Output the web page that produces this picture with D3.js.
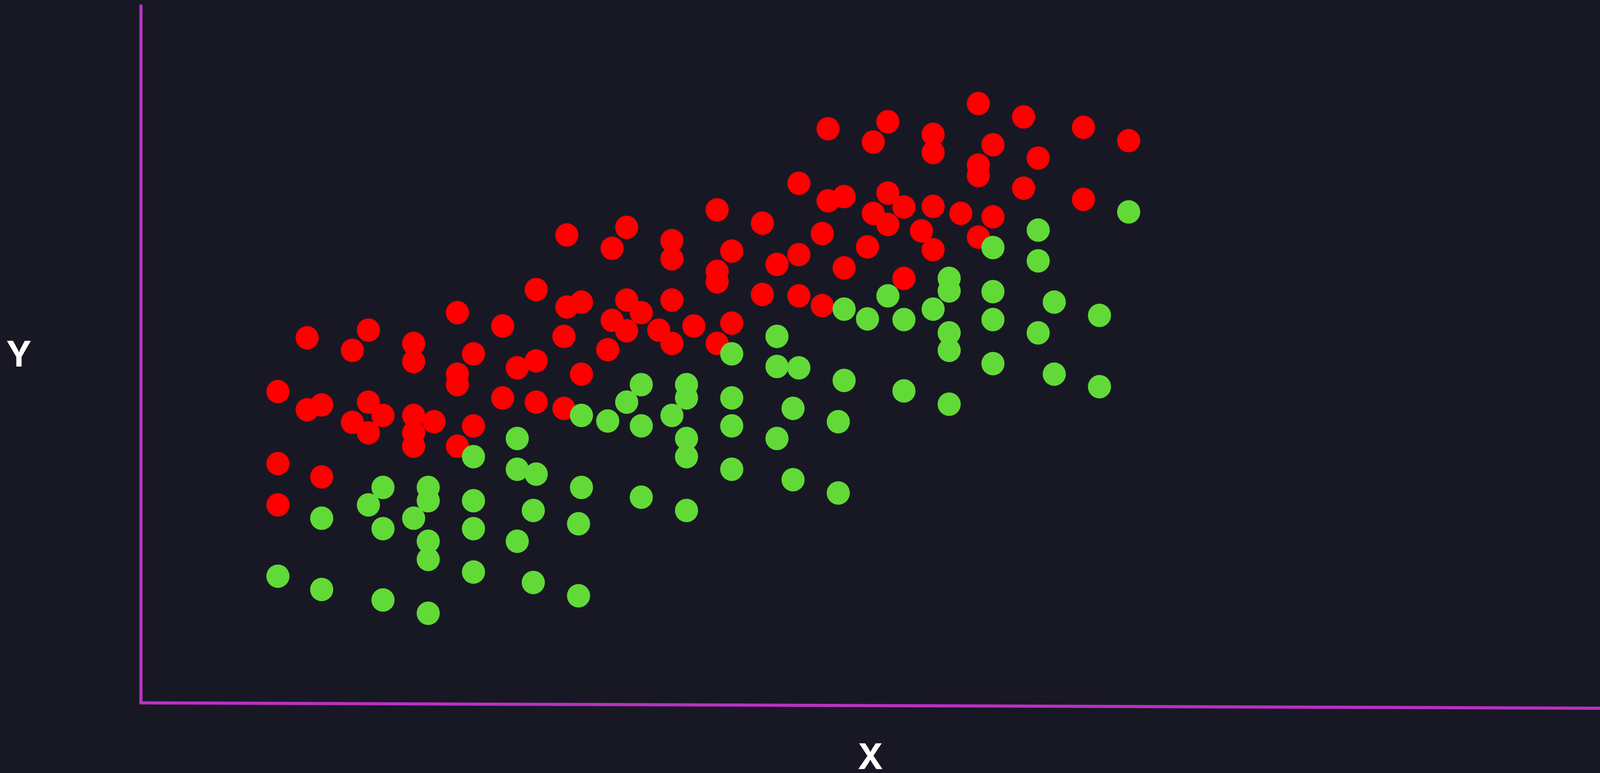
<!DOCTYPE html>
<html>
<head>
<meta charset="utf-8">
<script src="https://cdn.jsdelivr.net/npm/d3@7"></script>
<style>
  html, body { margin: 0; padding: 0; width: 100%; height: 100%; background: #181825; overflow: hidden; }
  #chart { width: 100vw; height: 100vh; }
</style>
</head>
<body>
<div id="chart"></div>
<script>
// red group
const redX = [57.4, 60.5, 51.2, 47.1, 50.2, 64.6, 67.7, 54.3, 54.3, 58.4,
  61.5, 57.4, 57.4, 60.5, 64.6, 45.1, 47.1, 48.2, 51.2, 52.3,
  50.2, 51.2, 54.3, 56.2, 58.4, 53.5, 54.3, 57.4, 46.7, 49.8,
  45.1, 43.6, 48.2, 52.3, 45.1, 46.7, 42.6, 42.6, 39.5, 40.5,
  39.5, 39.5, 36.4, 36.4, 33.3, 32.3, 29.2, 27.1, 29.2, 30.2,
  33.3, 36.4, 34.3, 32.3, 33.3, 35.5, 37.9, 40.5, 36.4, 39.5,
  32.0, 30.2, 29.0, 21.7, 24.8, 22.8, 18.7, 18.7, 15.6, 14.5,
  11.4, 21.7, 21.7, 25.8, 27.1, 9.4, 11.4, 12.4, 15.6, 16.6,
  14.5, 15.6, 18.7, 18.7, 18.7, 20.1, 22.8, 21.7, 24.8, 27.1,
  29.0, 9.4, 12.4, 9.4];
const redY = [85.8, 83.9, 83.2, 82.2, 80.3, 82.4, 80.5, 81.4, 78.8, 79.9,
  78.0, 77.0, 75.5, 73.7, 72.1, 74.4, 71.9, 72.5, 73.0, 71.0,
  70.1, 68.5, 71.1, 70.1, 69.6, 67.6, 64.9, 66.7, 67.2, 65.3,
  64.2, 62.8, 62.3, 60.8, 58.3, 56.9, 58.5, 68.7, 70.6, 64.7,
  61.8, 60.3, 66.2, 63.6, 68.1, 65.1, 67.0, 59.2, 56.7, 57.4,
  57.7, 57.7, 55.9, 54.8, 53.3, 53.4, 54.0, 54.4, 51.5, 51.5,
  50.6, 47.1, 52.5, 55.9, 54.0, 50.0, 51.5, 48.9, 53.4, 50.5,
  52.3, 47.1, 45.6, 48.0, 49.0, 44.6, 42.0, 42.7, 43.1, 41.2,
  40.2, 38.7, 41.2, 38.7, 36.8, 40.3, 39.7, 36.8, 43.7, 43.1,
  42.2, 34.3, 32.4, 28.4];

// green group
const greenX = [67.7, 61.5, 58.4, 61.5, 55.4, 55.4, 58.4, 62.6, 65.7, 58.4,
  54.3, 52.3, 51.2, 49.8, 48.2, 55.4, 55.4, 61.5, 58.4, 62.6,
  65.7, 52.3, 55.4, 48.2, 43.6, 43.6, 45.1, 44.7, 47.8, 43.6,
  44.7, 47.8, 40.5, 40.5, 40.5, 40.5, 37.4, 37.4, 36.4, 37.4,
  37.4, 37.4, 34.3, 33.3, 34.3, 34.3, 32.0, 30.2, 30.2, 30.0,
  30.0, 25.8, 25.8, 27.1, 26.9, 25.8, 26.9, 22.8, 22.8, 22.8,
  22.8, 19.7, 19.7, 18.7, 19.7, 19.7, 19.7, 16.6, 15.6, 16.6,
  16.6, 12.4, 12.4, 9.4];
const greenY = [70.3, 67.7, 65.2, 63.3, 60.8, 59.0, 58.9, 57.4, 55.5, 54.9,
  56.4, 54.9, 58.3, 55.0, 56.4, 53.0, 50.5, 53.0, 48.6, 47.1,
  45.3, 44.7, 42.8, 46.2, 52.5, 48.2, 48.0, 42.2, 40.3, 37.9,
  32.0, 30.1, 50.0, 43.7, 39.7, 33.5, 45.6, 43.7, 41.2, 37.9,
  35.3, 27.6, 45.6, 43.1, 39.7, 29.5, 40.4, 41.2, 30.9, 25.7,
  15.4, 37.9, 33.5, 32.8, 27.6, 23.2, 17.3, 35.3, 29.0, 25.0,
  18.8, 30.9, 29.0, 26.5, 23.2, 20.6, 12.9, 30.9, 28.4, 25.0,
  14.8, 26.5, 16.3, 18.2];

const axisLabels = ["X", "Y"];

class Scatterplot {
  constructor(config) {
    this.config = config;
    this.svg = null;
    this.xScale = null;
    this.yScale = null;

    this.createSvg();
    this.createScales();
  }

  createSvg() {
    // drawn in a 4149x1978 frame and stretched to whatever the window is
    this.svg = d3.select(this.config.div)
      .append("svg")
      .attr("viewBox", `0 0 ${this.config.width} ${this.config.height}`)
      .attr("preserveAspectRatio", "none")
      .attr("width", "100%")
      .attr("height", "100%")
      .style("display", "block")
      .style("background", this.config.background);
  }

  createScales() {
    this.xScale = d3.scaleLinear().domain([0, 100]).range([this.config.left, this.config.width]);
    this.yScale = d3.scaleLinear().domain([0, 100]).range([this.config.bottom, this.config.top]);
  }

  createAxis() {
    let xAxis = d3.axisBottom(this.xScale).tickValues([]).tickSizeOuter(0);
    let yAxis = d3.axisLeft(this.yScale).tickValues([]).tickSizeOuter(0);

    // the x axis sinks a little towards the right in the original
    this.svg.append("g")
      .attr("transform", `translate(0,${this.config.bottom - 2}) rotate(0.21 ${this.config.left} 0)`)
      .call(xAxis)
      .select(".domain")
        .attr("stroke", this.config.axisColor)
        .attr("stroke-width", 8)
        .attr("stroke-linecap", "square");

    this.svg.append("g")
      .attr("transform", `translate(${this.config.left},0)`)
      .call(yAxis)
      .select(".domain")
        .attr("stroke", this.config.axisColor)
        .attr("stroke-width", 8);

    const [x0, x1] = this.xScale.range();
    const [y0, y1] = this.yScale.range();

    this.svg.append("text")
      .attr("x", (x0 + x1) / 2)
      .attr("y", this.config.bottom + 168)
      .attr("text-anchor", "middle")
      .attr("fill", "#ffffff")
      .style("font-family", "Inter, 'Open Sans', sans-serif")
      .style("font-weight", 700)
      .style("font-size", "91px")
      .text(axisLabels[0]);

    this.svg.append("text")
      .attr("x", 49)
      .attr("y", (y0 + y1) / 2)
      .attr("dy", "0.36em")
      .attr("text-anchor", "middle")
      .attr("fill", "#ffffff")
      .style("font-family", "Inter, 'Open Sans', sans-serif")
      .style("font-weight", 700)
      .style("font-size", "91px")
      .text(axisLabels[1]);
  }

  renderCircles(xs, ys, color) {
    const data = xs.map((x, i) => ({ x: x, y: ys[i] }));
    this.svg.append("g")
      .selectAll("circle")
      .data(data)
      .join("circle")
        .attr("cx", d => this.xScale(d.x))
        .attr("cy", d => this.yScale(d.y))
        .attr("r", this.config.radius)
        .attr("fill", color);
  }
}

const plot = new Scatterplot({
  div: "#chart",
  width: 4149,
  height: 1978,
  left: 365,
  top: 11,
  bottom: 1800,
  radius: 30,
  background: "#181825",
  axisColor: "#b932c2"
});

plot.createAxis();
plot.renderCircles(redX, redY, "#ff0000");
plot.renderCircles(greenX, greenY, "#61da37");
</script>
</body>
</html>
